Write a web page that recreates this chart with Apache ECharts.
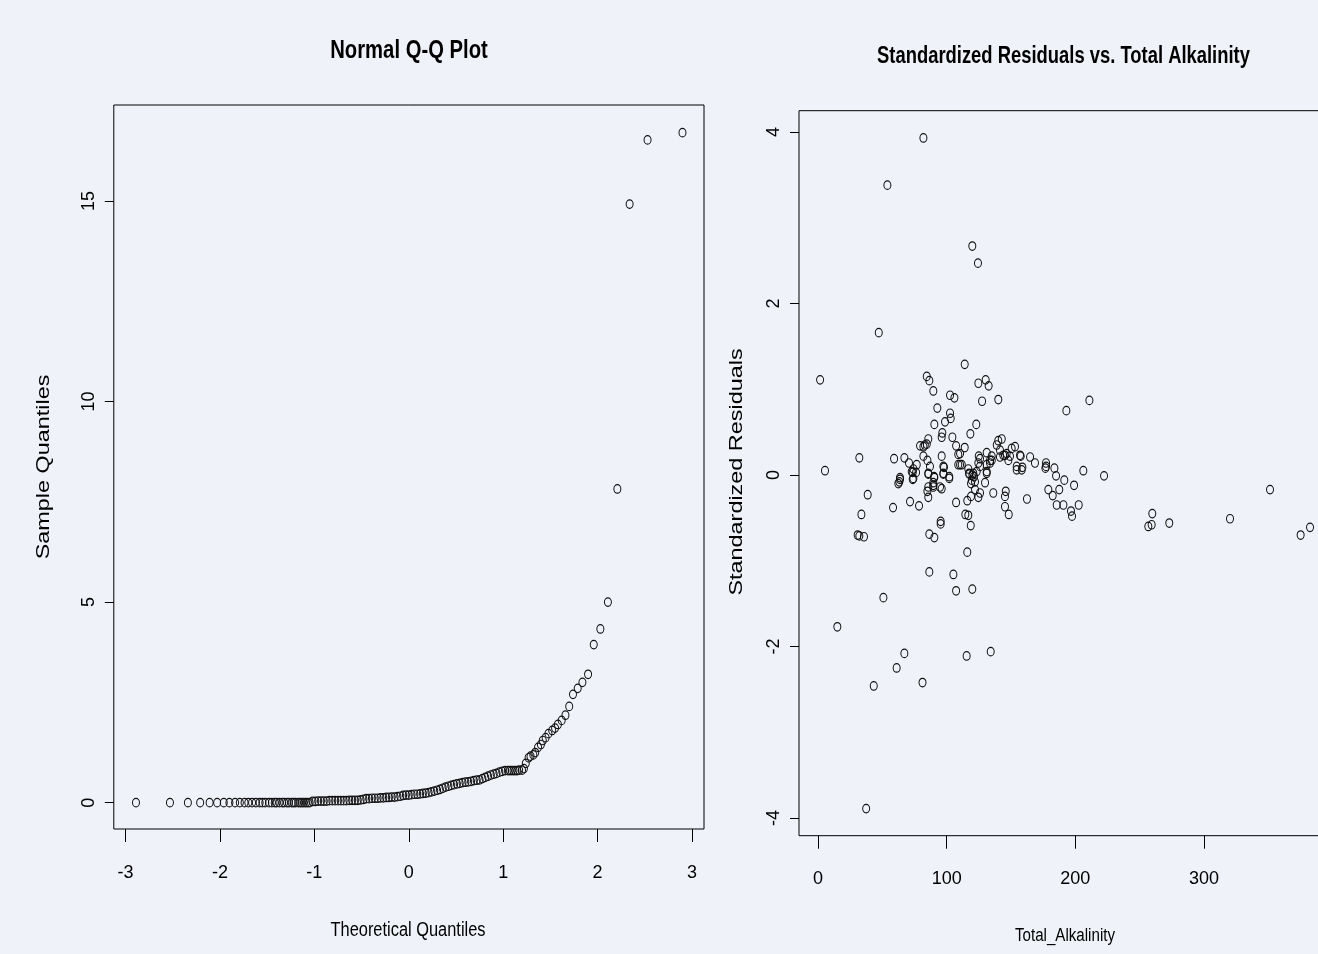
<!DOCTYPE html>
<html>
<head>
<meta charset="utf-8">
<script src="https://cdn.jsdelivr.net/npm/echarts@6/dist/echarts.min.js"></script>
<style>
  html, body { margin: 0; padding: 0; background: #f0f2fa; }
  #chart { width: 1318px; height: 954px; }
</style>
</head>
<body>
<div id="chart"></div>
<script>
// Normal Q-Q plot: theoretical quantiles / sample quantiles
const qqTheoretical = [
  -2.89, -2.53, -2.34, -2.21, -2.11, -2.03, -1.96, -1.90, -1.84, -1.79,
  -1.74, -1.70, -1.66, -1.62, -1.58, -1.55, -1.52, -1.48, -1.45, -1.42,
  -1.40, -1.37, -1.34, -1.32, -1.29, -1.27, -1.24, -1.22, -1.20, -1.17,
  -1.15, -1.13, -1.11, -1.09, -1.07, -1.05,
  -1.02, -0.99, -0.96, -0.93, -0.90, -0.87, -0.84, -0.81, -0.78, -0.75,
  -0.72, -0.69, -0.66, -0.63, -0.60, -0.57, -0.54, -0.51, -0.48, -0.45,
  -0.42, -0.39, -0.36, -0.33, -0.30, -0.27, -0.24, -0.21, -0.18, -0.15,
  -0.12, -0.09, -0.06, -0.03, 0.00, 0.03, 0.06, 0.09, 0.12, 0.15,
  0.18, 0.21, 0.24, 0.27, 0.30, 0.33, 0.36, 0.39, 0.42, 0.45,
  0.48, 0.51, 0.54, 0.57, 0.60, 0.63, 0.66, 0.69, 0.72, 0.75,
  0.78, 0.81, 0.84, 0.87, 0.90, 0.93, 0.96, 0.99, 1.02,
  1.05, 1.07, 1.09, 1.11, 1.13, 1.15, 1.17, 1.20, 1.22, 1.24,
  1.27, 1.29, 1.32, 1.34, 1.37, 1.40, 1.42, 1.45, 1.48, 1.52,
  1.55, 1.58, 1.62, 1.66, 1.70, 1.74, 1.79, 1.84, 1.90, 1.96,
  2.03, 2.11, 2.21, 2.34, 2.53, 2.90
];
const qqSample = [
  0, 0, 0, 0, 0, 0, 0, 0, 0, 0,
  0, 0, 0, 0, 0, 0, 0, 0, 0, 0,
  0, 0, 0, 0, 0, 0, 0, 0, 0, 0,
  0, 0, 0, 0, 0, 0,
  0.03, 0.03, 0.04, 0.04, 0.04, 0.04, 0.05, 0.05, 0.05, 0.05,
  0.05, 0.05, 0.05, 0.06, 0.06, 0.06, 0.06, 0.07, 0.08, 0.10,
  0.10, 0.11, 0.11, 0.11, 0.12, 0.12, 0.13, 0.13, 0.14, 0.14,
  0.15, 0.16, 0.18, 0.19, 0.19, 0.20, 0.21, 0.21, 0.22, 0.23,
  0.24, 0.25, 0.27, 0.29, 0.31, 0.33, 0.36, 0.39, 0.41, 0.43,
  0.45, 0.47, 0.48, 0.50, 0.51, 0.52, 0.53, 0.55, 0.56, 0.57,
  0.60, 0.63, 0.66, 0.69, 0.71, 0.73, 0.76, 0.78, 0.80,
  0.80, 0.80, 0.80, 0.80, 0.80, 0.80, 0.81, 0.81, 0.85, 0.98,
  1.12, 1.16, 1.19, 1.25, 1.38, 1.45, 1.55, 1.62, 1.72, 1.80,
  1.86, 1.95, 2.05, 2.18, 2.40, 2.70, 2.85, 3.00, 3.20, 3.94,
  4.33, 5.00, 7.82, 14.92, 16.52, 16.70
];

// Standardized residuals vs. total alkalinity
const alkalinity = [
  81.9, 53.9, 119.9, 124.3, 47.2, 1.6, 114.0, 84.5, 86.5, 89.6,
  124.6, 130.3, 132.6, 102.6, 106.0, 127.5, 140.1, 92.7, 102.6, 103.1,
  98.7, 90.4, 123.0, 118.4, 96.6, 96.1, 104.4, 85.7, 84.5, 79.3,
  81.9, 107.3, 114.0, 110.4, 81.9, 32.1, 59.1, 67.1, 70.7, 76.7,
  85.0, 87.0, 96.1, 110.4, 124.9, 125.9, 131.1, 133.7, 140.1, 142.8,
  141.4, 145.3, 147.9, 150.5, 153.1, 154.4, 157.0, 5.4, 74.1, 73.6,
  85.7, 90.4, 97.9, 97.4, 102.0, 116.8, 117.6, 120.0, 121.2, 119.5,
  122.0, 118.9, 123.3, 131.1, 129.8, 89.6, 89.6, 94.8, 96.1, 63.7,
  62.4, 38.6, 85.0, 85.7, 71.5, 78.5, 58.3, 107.3, 116.0, 118.9,
  122.0, 124.6, 125.9, 136.2, 145.9, 145.3, 145.3, 148.2, 33.7, 114.5,
  116.8, 118.7, 95.3, 95.3, 30.8, 32.1, 35.7, 86.5, 90.4, 116.0,
  86.5, 105.2, 107.3, 119.9, 50.8, 15.0, 67.1, 115.5, 134.2, 61.1,
  43.3, 81.2, 37.4, 193.0, 210.9, 138.9, 144.0, 141.4, 146.6, 149.2,
  135.0, 157.5, 164.8, 168.6, 158.8, 177.2, 177.2, 176.7, 183.7, 185.0,
  191.4, 206.2, 222.3, 120.7, 124.6, 125.9, 131.1, 131.1, 133.7, 135.0,
  111.7, 199.0, 187.5, 179.0, 182.4, 185.5, 190.7, 202.6, 196.6, 197.4,
  162.4, 259.8, 259.3, 256.7, 273.0, 320.2, 351.3, 375.1, 382.4, 109.0,
  76.2, 72.8, 97.4, 97.4, 85.7, 90.2, 102.0, 109.0, 63.7, 154.4,
  158.3, 89.6, 63.2, 73.6, 74.1, 85.7, 117.4, 83.0
];
const stdResiduals = [
  3.93, 3.38, 2.67, 2.47, 1.66, 1.11, 1.29, 1.15, 1.10, 0.98,
  1.07, 1.11, 1.04, 0.93, 0.90, 0.86, 0.88, 0.78, 0.72, 0.66,
  0.62, 0.59, 0.59, 0.48, 0.49, 0.44, 0.44, 0.42, 0.36, 0.34,
  0.33, 0.34, 0.32, 0.25, 0.22, 0.20, 0.19, 0.20, 0.14, 0.12,
  0.17, 0.10, 0.22, 0.12, 0.22, 0.19, 0.26, 0.17, 0.40, 0.42,
  0.29, 0.23, 0.17, 0.31, 0.33, 0.10, 0.23, 0.05, 0.07, -0.05,
  0.01, -0.03, 0.09, 0.01, -0.04, 0.07, 0.01, 0.00, -0.02, -0.06,
  -0.08, -0.10, 0.04, 0.04, -0.09, -0.09, -0.14, -0.14, -0.16, -0.05,
  -0.10, -0.23, -0.19, -0.26, -0.31, -0.36, -0.38, -0.32, -0.30, -0.25,
  -0.17, -0.26, -0.21, -0.21, -0.19, -0.25, -0.37, -0.46, -0.46, -0.46,
  -0.47, -0.59, -0.54, -0.57, -0.70, -0.71, -0.72, -0.69, -0.73, -0.90,
  -1.13, -1.16, -1.35, -1.33, -1.43, -1.77, -2.08, -2.11, -2.06, -2.25,
  -2.46, -2.42, -3.89, 0.75, 0.87, 0.35, 0.23, 0.21, 0.25, 0.22,
  0.22, 0.22, 0.21, 0.14, 0.09, 0.14, 0.10, 0.08, 0.08, -0.01,
  -0.06, 0.05, -0.01, 0.02, 0.14, 0.10, 0.12, 0.02, 0.14, 0.17,
  0.12, -0.12, -0.17, -0.17, -0.24, -0.35, -0.35, -0.35, -0.42, -0.48,
  -0.28, -0.45, -0.58, -0.60, -0.56, -0.51, -0.17, -0.70, -0.61, 0.24,
  0.03, 0.04, 0.10, 0.02, 0.02, -0.02, -0.02, 0.12, -0.03, 0.06,
  0.06, -0.12, -0.08, 0.03, -0.04, -0.14, 0.02, 0.35
];

// tick labels
const qqXTicks = [-3, -2, -1, 0, 1, 2, 3];
const qqYTicks = [0, 5, 10, 15];
const alkTicks = [0, 100, 200, 300];
const resTicks = [-4, -2, 0, 2, 4];

const fontName = "'Liberation Sans', Arial, sans-serif";

let myChart = echarts.init(document.getElementById("chart"));

const xAxisStyle = function (ticks, margin) {
  return {
    axisLine: { show: false, onZero: false },
    axisTick: {
      show: true,
      length: 13,
      customValues: ticks,
      lineStyle: { color: "#000", width: 1 },
    },
    axisLabel: {
      customValues: ticks,
      margin: margin,
      color: "#000",
      fontFamily: fontName,
      fontSize: 18,
    },
    splitLine: { show: false },
  };
};
const yAxisStyle = function (ticks) {
  return {
    axisLine: { show: false, onZero: false },
    axisTick: {
      show: true,
      length: 9,
      customValues: ticks,
      lineStyle: { color: "#000", width: 1 },
    },
    axisLabel: {
      customValues: ticks,
      rotate: 90,
      margin: 16,
      color: "#000",
      fontFamily: fontName,
      fontSize: 18,
    },
    splitLine: { show: false },
  };
};

// titles and axis names: the picture is squeezed sideways, so the text is scaled to match
const label = function (text, x, y, size, sx, bold, vertical) {
  return {
    type: "text",
    x: x,
    y: y,
    rotation: vertical ? Math.PI / 2 : 0,
    scaleX: sx,
    scaleY: 1,
    silent: true,
    style: {
      text: text,
      fill: "#000",
      fontFamily: fontName,
      fontSize: size,
      fontWeight: bold ? "bold" : "normal",
      align: "center",
      textAlign: "center",
      verticalAlign: "middle",
      textVerticalAlign: "middle",
    },
  };
};

let option = {
  backgroundColor: "#f0f2fa",
  animation: false,
  graphic: [
    label("Normal Q-Q Plot", 409, 51, 25, 0.81, true, false),
    label("Standardized Residuals vs. Total Alkalinity", 1063.5, 57, 23, 0.8, true, false),
    label("Theoretical Quantiles", 408, 930, 20, 0.82, false, false),
    label("Total_Alkalinity", 1065, 936, 18, 0.84, false, false),
    label("Sample Quantiles", 44, 467, 18, 1.3, false, true),
    label("Standardized Residuals", 737, 472, 18, 1.3, false, true),
  ],
  grid: [
    {
      left: 113.8, top: 105, width: 590.2, height: 724,
      show: true, borderColor: "#000", borderWidth: 1, backgroundColor: "transparent",
      outerBoundsMode: "none",
    },
    {
      left: 799, top: 110.7, width: 532, height: 725,
      show: true, borderColor: "#000", borderWidth: 1, backgroundColor: "transparent",
      outerBoundsMode: "none",
    },
  ],
  xAxis: [
    Object.assign(
      { type: "value", gridIndex: 0, min: -3.125, max: 3.128 },
      xAxisStyle(qqXTicks, 35)
    ),
    Object.assign(
      { type: "value", gridIndex: 1, min: -14.8, max: 398.7 },
      xAxisStyle(alkTicks, 34)
    ),
  ],
  yAxis: [
    Object.assign(
      { type: "value", gridIndex: 0, min: -0.656, max: 17.39 },
      yAxisStyle(qqYTicks)
    ),
    Object.assign(
      { type: "value", gridIndex: 1, min: -4.206, max: 4.248 },
      yAxisStyle(resTicks)
    ),
  ],
  series: [
    {
      type: "scatter",
      xAxisIndex: 0,
      yAxisIndex: 0,
      data: qqTheoretical.map((x, i) => [x, qqSample[i]]),
      symbol: "circle",
      symbolSize: [7, 8.5],
      itemStyle: { color: "rgba(0,0,0,0)", borderColor: "#111", borderWidth: 1.1, opacity: 1 },
      silent: true,
    },
    {
      type: "scatter",
      xAxisIndex: 1,
      yAxisIndex: 1,
      data: alkalinity.map((x, i) => [x, stdResiduals[i]]),
      symbol: "circle",
      symbolSize: [7, 8.5],
      itemStyle: { color: "rgba(0,0,0,0)", borderColor: "#111", borderWidth: 1.1, opacity: 1 },
      silent: true,
    },
  ],
};
myChart.setOption(option);
</script>
</body>
</html>
